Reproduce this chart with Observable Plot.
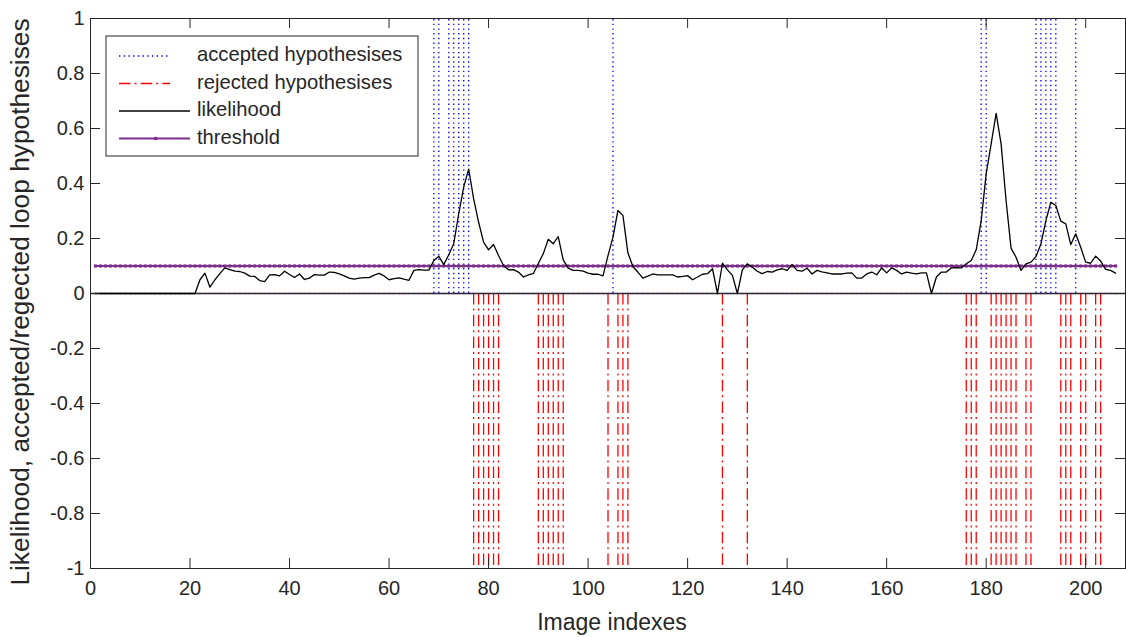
<!DOCTYPE html>
<html><head><meta charset="utf-8">
<script src="https://cdn.jsdelivr.net/npm/d3@7"></script>
<script src="https://cdn.jsdelivr.net/npm/@observablehq/plot@0.6"></script>
<style>html,body{margin:0;padding:0;background:#fff}</style>
</head><body><div id="chart"></div>
<script>
// ---- data ----
const accepted = [69,70,72,73,74,75,76,105,179,180,190,191,192,193,194,198];
const rejected = [77,78,79,80,81,82,90,91,92,93,94,95,104,106,107,108,127,132,
  176,177,178,181,182,183,184,185,186,188,189,195,196,197,199,200,202,203];
// likelihood for image index 1..206
const likelihood = [
  0,0,0,0,0,0,0,0,0,0, 0,0,0,0,0,0,0,0,0,0, 0,            // 1-21
  0.050,0.074,0.023,0.050,0.072,0.093,0.087,0.081,0.080,   // 22-30
  0.074,0.063,0.062,0.047,0.043,0.068,0.069,0.064,0.081,0.069, // 31-40
  0.058,0.071,0.051,0.056,0.069,0.067,0.067,0.078,0.077,0.071, // 41-50
  0.064,0.056,0.052,0.056,0.058,0.058,0.067,0.073,0.064,0.050, // 51-60
  0.054,0.057,0.052,0.048,0.084,0.087,0.085,0.085,0.120,0.135, // 61-70
  0.105,0.141,0.181,0.290,0.387,0.452,0.344,0.259,0.187,0.159, // 71-80
  0.178,0.138,0.102,0.086,0.087,0.078,0.060,0.068,0.073,0.109, // 81-90
  0.145,0.197,0.181,0.207,0.122,0.092,0.084,0.084,0.081,0.074, // 91-100
  0.070,0.070,0.064,0.138,0.205,0.302,0.284,0.148,0.098,0.078, // 101-110
  0.056,0.063,0.071,0.068,0.068,0.068,0.068,0.060,0.062,0.065, // 111-120
  0.050,0.060,0.070,0.072,0.090,0.000,0.110,0.086,0.066,0.000, // 121-130
  0.086,0.108,0.096,0.081,0.072,0.080,0.078,0.086,0.090,0.084, // 131-140
  0.105,0.084,0.081,0.092,0.071,0.084,0.079,0.075,0.071,0.071, // 141-150
  0.071,0.074,0.075,0.056,0.056,0.071,0.078,0.068,0.093,0.075, // 151-160
  0.093,0.084,0.071,0.078,0.074,0.071,0.075,0.075,0.000,0.060, // 161-170
  0.078,0.078,0.093,0.094,0.093,0.108,0.120,0.159,0.265,0.435, // 171-180
  0.544,0.655,0.544,0.338,0.165,0.132,0.084,0.108,0.114,0.134, // 181-190
  0.180,0.265,0.332,0.320,0.263,0.253,0.178,0.217,0.168,0.114, // 191-200
  0.110,0.136,0.118,0.088,0.084,0.074                          // 201-206
];
const threshold = 0.1;
const xTicks = [0,20,40,60,80,100,120,140,160,180,200];
const yTicks = [1,0.8,0.6,0.4,0.2,0,-0.2,-0.4,-0.6,-0.8,-1];
const legendLabels = ["accepted hypothesises","rejected hypothesises","likelihood","threshold"];
const xLabel = "Image indexes";
const yLabel = "Likelihood, accepted/regected loop hypothesises";

// ---- tables ----
const likeData = likelihood.map((v,k)=>({i:k+1, v}));
const thrData = likeData.map(d=>({i:d.i, v:threshold}));
const zeroData = likeData.map(d=>({i:d.i, v:0}));

const FONT = "'Liberation Sans', Arial, Helvetica, sans-serif";
const INK = "#262626";
const BLUE = "#0000ff", RED = "#ff0000", PURPLE = "#7E2F8E";
const BLUE_DASH = "1.4,3.3", RED_DASH = "11.5,4,2,4.2";

const plot = Plot.plot({
  width: 1126, height: 637,
  marginLeft: 90, marginRight: 1, marginTop: 18, marginBottom: 69,
  x: {domain: [0, 208]},
  y: {domain: [-1, 1]},
  style: {fontFamily: FONT, fontSize: "20px", color: INK, background: "#fff", overflow: "visible"},
  marks: [
    Plot.ruleX(accepted, {x: d=>d, y1: 0, y2: 1, stroke: BLUE, strokeWidth: 1.3, strokeDasharray: BLUE_DASH}),
    Plot.ruleX(rejected, {x: d=>d, y1: 0, y2: -1, stroke: RED, strokeWidth: 1.3, strokeDasharray: RED_DASH}),
    Plot.ruleY([0], {stroke: INK, strokeWidth: 1.3}),
    Plot.dot(zeroData, {x: "i", y: "v", r: 1.1, fill: PURPLE, fillOpacity: 0.35, stroke: "none", symbol: "square"}),
    Plot.lineY(thrData, {x: "i", y: "v", stroke: PURPLE, strokeWidth: 2}),
    Plot.dot(thrData, {x: "i", y: "v", r: 1.8, fill: PURPLE, stroke: "none", symbol: "square"}),
    Plot.lineY(likeData, {x: "i", y: "v", stroke: "#000", strokeWidth: 1.3}),
    Plot.frame({stroke: INK, strokeWidth: 1}),
    Plot.ruleX(xTicks, {x: d=>d, insetTop: 540, stroke: INK}),
    Plot.ruleX(xTicks, {x: d=>d, insetBottom: 540, stroke: INK}),
    Plot.ruleY(yTicks, {y: d=>d, insetRight: 1025, stroke: INK}),
    Plot.ruleY(yTicks, {y: d=>d, insetLeft: 1025, stroke: INK}),
    Plot.axisX(xTicks, {tickSize: 0, tickPadding: 12, label: null, fontSize: 20, tickFormat: d=>String(d)}),
    Plot.axisY(yTicks, {tickSize: 0, tickPadding: 6, label: null, fontSize: 20, tickFormat: d=>String(d)})
  ]
});
document.getElementById("chart").appendChild(plot);

const svg = d3.select(plot);
// axis labels
svg.append("text").attr("x", 612).attr("y", 624).attr("text-anchor", "middle")
  .attr("dominant-baseline", "middle").attr("font-family", FONT).attr("font-size", 23).attr("fill", INK).text(xLabel);
svg.append("text").attr("transform", "translate(22,302) rotate(-90)").attr("text-anchor", "middle")
  .attr("dominant-baseline", "middle").attr("font-family", FONT).attr("font-size", 26.3).attr("fill", INK).text(yLabel);

// legend
const lg = svg.append("g");
lg.append("rect").attr("x", 106).attr("y", 36).attr("width", 312).attr("height", 120)
  .attr("fill", "#fff").attr("stroke", INK).attr("stroke-width", 1);
const styles = [
  {stroke: BLUE, dash: BLUE_DASH, x2: 170, w: 1.3},
  {stroke: RED, dash: RED_DASH, x2: 170, w: 1.3},
  {stroke: "#000", dash: null, x2: 190, w: 1.3},
  {stroke: PURPLE, dash: null, x2: 190, w: 1.8, marker: true}
];
const rowY = [56, 83.5, 111, 138.5];
legendLabels.forEach((lab, k) => {
  const s = styles[k], y = rowY[k];
  const ln = lg.append("line").attr("x1", 119).attr("x2", s.x2).attr("y1", y).attr("y2", y)
    .attr("stroke", s.stroke).attr("stroke-width", s.w);
  if (s.dash) ln.attr("stroke-dasharray", s.dash);
  if (s.marker) lg.append("rect").attr("x", 154).attr("y", y-1.6).attr("width", 3.2).attr("height", 3.2).attr("fill", PURPLE);
  lg.append("text").attr("x", 197).attr("y", y).attr("text-anchor", "start").attr("dominant-baseline", "middle")
    .attr("font-family", FONT).attr("font-size", 20.2).attr("fill", INK).text(lab);
});
</script>
</body></html>
